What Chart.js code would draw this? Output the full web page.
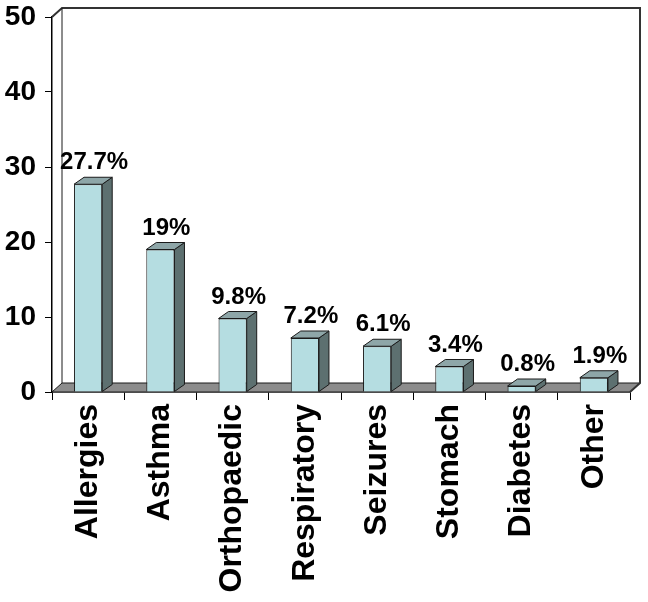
<!DOCTYPE html>
<html>
<head>
<meta charset="utf-8">
<script src="https://cdn.jsdelivr.net/npm/chart.js@4/dist/chart.umd.min.js"></script>
<style>
  html, body { margin: 0; padding: 0; background: #ffffff; }
  #wrap { width: 648px; height: 602px; position: relative; }
</style>
</head>
<body>
<div id="wrap"><canvas id="c" width="648" height="602"></canvas></div>
<script>
const categories = ['Allergies', 'Asthma', 'Orthopaedic', 'Respiratory', 'Seizures', 'Stomach', 'Diabetes', 'Other'];
const values = [27.7, 19, 9.8, 7.2, 6.1, 3.4, 0.8, 1.9];
const valueLabels = ['27.7%', '19%', '9.8%', '7.2%', '6.1%', '3.4%', '0.8%', '1.9%'];
const yMin = 0;
const yMax = 50;
const yStep = 10;

const FONT = '"Liberation Sans", Arial, Helvetica, sans-serif';
const FRONT = '#b5dde1';
const TOP = '#8ea6a8';
const SIDE = '#5d7070';
const FLOOR = '#8c8c8c';
const EDGE = '#1a1a1a';
const BAR_DX = 10, BAR_DY = 7;
const WALL_DX = 10, WALL_DY = 9;

const wallPlugin = {
  id: 'wall',
  beforeDatasetsDraw(chart) {
    const { ctx, chartArea: a } = chart;
    const y0 = chart.scales.y.getPixelForValue(0);
    ctx.save();
    // floor
    ctx.beginPath();
    ctx.moveTo(a.left, y0);
    ctx.lineTo(a.right, y0);
    ctx.lineTo(a.right + WALL_DX, y0 - WALL_DY);
    ctx.lineTo(a.left + WALL_DX, y0 - WALL_DY);
    ctx.closePath();
    ctx.fillStyle = FLOOR;
    ctx.fill();
    ctx.lineWidth = 1;
    ctx.strokeStyle = EDGE;
    ctx.stroke();
    // back wall outline
    ctx.beginPath();
    ctx.moveTo(a.left, a.top);
    ctx.lineTo(a.left + WALL_DX, a.top - WALL_DY);
    ctx.lineTo(a.right + WALL_DX, a.top - WALL_DY);
    ctx.lineTo(a.right + WALL_DX, y0 - WALL_DY);
    ctx.lineTo(a.right, y0);
    ctx.strokeStyle = '#333333';
    ctx.lineWidth = 2;
    ctx.stroke();
    // back-left vertical edge
    ctx.beginPath();
    ctx.moveTo(a.left + WALL_DX, a.top - WALL_DY);
    ctx.lineTo(a.left + WALL_DX, y0 - WALL_DY);
    ctx.lineWidth = 1;
    ctx.strokeStyle = EDGE;
    ctx.stroke();
    ctx.restore();
  }
};

const depthPlugin = {
  id: 'depth',
  afterDatasetsDraw(chart) {
    const { ctx } = chart;
    const meta = chart.getDatasetMeta(0);
    ctx.save();
    ctx.lineWidth = 1;
    ctx.strokeStyle = EDGE;
    ctx.lineJoin = 'round';
    meta.data.forEach((bar, i) => {
      const p = bar.getProps(['x', 'y', 'base', 'width'], true);
      const L = p.x - p.width / 2, R = p.x + p.width / 2;
      const t = p.y, b = p.base;
      // side
      ctx.beginPath();
      ctx.moveTo(R, t);
      ctx.lineTo(R + BAR_DX, t - BAR_DY);
      ctx.lineTo(R + BAR_DX, b - BAR_DY);
      ctx.lineTo(R, b);
      ctx.closePath();
      ctx.fillStyle = SIDE;
      ctx.fill();
      ctx.stroke();
      // top
      ctx.beginPath();
      ctx.moveTo(L, t);
      ctx.lineTo(R, t);
      ctx.lineTo(R + BAR_DX, t - BAR_DY);
      ctx.lineTo(L + BAR_DX, t - BAR_DY);
      ctx.closePath();
      ctx.fillStyle = TOP;
      ctx.fill();
      ctx.stroke();
      // value label
      ctx.fillStyle = '#000000';
      ctx.font = 'bold 24px ' + FONT;
      ctx.textAlign = 'center';
      ctx.textBaseline = 'alphabetic';
      ctx.fillText(valueLabels[i], p.x + 6, t - 15);
    });
    ctx.restore();
  }
};

new Chart(document.getElementById('c'), {
  type: 'bar',
  data: {
    labels: categories,
    datasets: [{
      data: values,
      backgroundColor: FRONT,
      borderColor: EDGE,
      borderWidth: 1,
      categoryPercentage: 1,
      barPercentage: 0.39
    }]
  },
  options: {
    responsive: false,
    animation: false,
    devicePixelRatio: 1,
    layout: { padding: { top: 17, right: 18, bottom: 0, left: 0 } },
    plugins: {
      legend: { display: false },
      tooltip: { enabled: false },
      title: { display: false }
    },
    scales: {
      x: {
        grid: { display: true, drawOnChartArea: false, drawTicks: true, tickLength: 8, color: '#000000', lineWidth: 1, offset: true },
        border: { display: true, color: '#000000', width: 1.5 },
        ticks: {
          color: '#000000',
          font: { family: FONT, size: 32, weight: 'bold' },
          minRotation: 90,
          maxRotation: 90,
          autoSkip: false,
          padding: 4
        },
        afterFit(scale) {
          scale.height = 210;
          scale.paddingLeft = 0;
          scale.paddingRight = 0;
        }
      },
      y: {
        min: yMin,
        max: yMax,
        ticks: {
          stepSize: yStep,
          color: '#000000',
          font: { family: FONT, size: 28, weight: 'bold' },
          padding: 9
        },
        grid: { display: true, drawOnChartArea: false, drawTicks: true, tickLength: 7, color: '#000000', lineWidth: 1 },
        border: { display: true, color: '#000000', width: 1.5 },
        afterFit(scale) {
          scale.width = 52;
          scale.paddingTop = 0;
          scale.paddingBottom = 0;
        }
      }
    }
  },
  plugins: [wallPlugin, depthPlugin]
});
</script>
</body>
</html>
